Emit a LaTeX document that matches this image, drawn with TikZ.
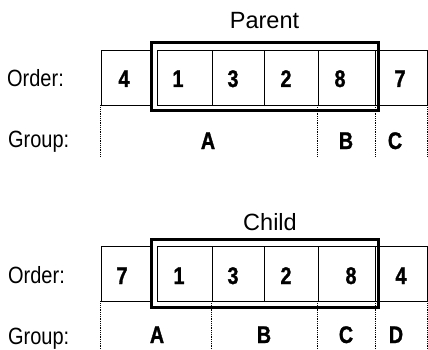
\documentclass[tikz,border=0pt]{standalone}
\usepackage{fontspec}
\setmainfont{Liberation Sans}
\newfontfamily\condfont{Liberation Sans}[FakeStretch=0.85]
\newfontfamily\numfont{Liberation Sans Bold}[FakeStretch=0.82,FakeBold=1.2]
\begin{document}
\begin{tikzpicture}[x=1pt,y=-1pt,
  cell/.style={draw, line width=0.9pt, minimum height=55pt, inner sep=0pt},
  frame/.style={draw, line width=3pt, inner sep=0pt, minimum width=227pt, minimum height=68pt},
  guide/.style={densely dotted, line width=0.8pt},
  dig/.style={anchor=base, inner sep=0pt, font=\numfont\fontsize{24}{24}\selectfont},
  lbl/.style={anchor=base west, inner sep=0pt, font=\condfont\fontsize{23.5}{24}\selectfont},
  ttl/.style={anchor=base, inner sep=0pt, font=\fontsize{23.5}{24}\selectfont}]
\useasboundingbox (0,0) rectangle (428,350);

% ---------------- Parent ----------------
\node[ttl] (ptitle) at (264.5,28.5) {Parent};
\node[lbl] (porder) at (7,86.5) {Order:};
\node[lbl] (pgroup) at (8,147.5) {Group:};

\node[cell, minimum width=50pt]   (pc4) at (126,77.5) {};
\node[cell, minimum width=55pt]   (pc1) at (184.5,77.5) {};
\node[cell, minimum width=52pt]   (pc3) at (238,77.5) {};
\node[cell, minimum width=54pt]   (pc2) at (291,77.5) {};
\node[cell, minimum width=57pt]   (pc8) at (346.5,77.5) {};
\node[cell, minimum width=52pt]   (pc7) at (401,77.5) {};
\node[frame] (pframe) at (264.5,77) {};

\node[dig] (pd4) at (124,87) {4};
\node[dig] (pd1) at (178,87) {1};
\node[dig] (pd3) at (233,87) {3};
\node[dig] (pd2) at (286,87) {2};
\node[dig] (pd8) at (340,87) {8};
\node[dig] (pd7) at (400,87) {7};

\coordinate (pbot) at (0,157);
\draw[guide] (pc4.south west) -- (pc4.south west |- pbot);
\draw[guide] (pc8.south west) -- (pc8.south west |- pbot);
\draw[guide] (pc8.south east) -- (pc8.south east |- pbot);
\draw[guide] (pc7.south east) -- (pc7.south east |- pbot);

\node[dig] (pgA) at (208,149) {A};
\node[dig] (pgB) at (346,149) {B};
\node[dig] (pgC) at (395,149) {C};

% ---------------- Child ----------------
\node[ttl] (ctitle) at (270,230) {Child};
\node[lbl] (corder) at (8,283) {Order:};
\node[lbl] (cgroup) at (8,344) {Group:};

\node[cell, minimum width=50pt]   (cc7) at (126,273.5) {};
\node[cell, minimum width=55pt]   (cc1) at (184.5,273.5) {};
\node[cell, minimum width=52pt]   (cc3) at (238,273.5) {};
\node[cell, minimum width=54pt]   (cc2) at (291,273.5) {};
\node[cell, minimum width=57pt]   (cc8) at (346.5,273.5) {};
\node[cell, minimum width=52pt]   (cc4) at (401,273.5) {};
\node[frame] (cframe) at (265,273) {};

\node[dig] (cd7) at (122,284) {7};
\node[dig] (cd1) at (179,284) {1};
\node[dig] (cd3) at (233,284) {3};
\node[dig] (cd2) at (286,284) {2};
\node[dig] (cd8) at (351,284) {8};
\node[dig] (cd4) at (401,284) {4};

\coordinate (cbot) at (0,350);
\draw[guide] (cc7.south west) -- (cc7.south west |- cbot);
\draw[guide] (cc3.south west) -- (cc3.south west |- cbot);
\draw[guide] (cc8.south west) -- (cc8.south west |- cbot);
\draw[guide] (cc8.south east) -- (cc8.south east |- cbot);
\draw[guide] (cc4.south east) -- (cc4.south east |- cbot);

\node[dig] (cgA) at (157,343) {A};
\node[dig] (cgB) at (264,343) {B};
\node[dig] (cgC) at (346,343) {C};
\node[dig] (cgD) at (396,343) {D};
\end{tikzpicture}
\end{document}
